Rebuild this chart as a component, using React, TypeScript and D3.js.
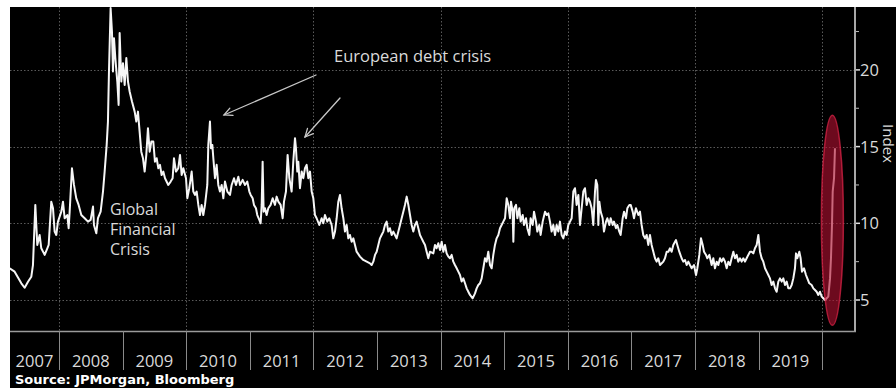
import React from 'react';
import * as d3 from 'd3';

// Decimal-year dates and index values
const dates: number[] = [
  2007.224, 2007.303, 2007.408, 2007.460, 2007.513, 2007.565, 2007.591, 2007.628, 2007.659, 2007.696,
  2007.722, 2007.775, 2007.817, 2007.838, 2007.879, 2007.906, 2007.932, 2007.958, 2007.984, 2008.037,
  2008.063, 2008.089, 2008.131, 2008.152, 2008.168, 2008.204, 2008.236, 2008.272, 2008.309, 2008.351,
  2008.404, 2008.456, 2008.498, 2008.535, 2008.550, 2008.587, 2008.613, 2008.655, 2008.692, 2008.718,
  2008.750, 2008.770, 2008.786, 2008.812, 2008.833, 2008.849, 2008.865, 2008.886, 2008.917, 2008.938,
  2008.954, 2008.980, 2009.006, 2009.033, 2009.059, 2009.085, 2009.111, 2009.148, 2009.190, 2009.216,
  2009.242, 2009.268, 2009.294, 2009.321, 2009.347, 2009.373, 2009.399, 2009.426, 2009.452,
  2009.483, 2009.509, 2009.536, 2009.562, 2009.588, 2009.614, 2009.640, 2009.667, 2009.719, 2009.756,
  2009.787, 2009.808, 2009.840, 2009.876, 2009.903, 2009.929, 2009.955, 2009.997, 2010.018, 2010.049,
  2010.086, 2010.112, 2010.138, 2010.165, 2010.191, 2010.217, 2010.243, 2010.269, 2010.296, 2010.332,
  2010.348, 2010.374, 2010.390, 2010.411, 2010.427, 2010.453, 2010.479, 2010.505, 2010.531, 2010.558,
  2010.584, 2010.610, 2010.647, 2010.689, 2010.715, 2010.752, 2010.783, 2010.820, 2010.846, 2010.888,
  2010.925, 2010.961, 2010.993, 2011.014, 2011.045, 2011.066, 2011.097, 2011.118, 2011.150, 2011.171,
  2011.187, 2011.202, 2011.218, 2011.239, 2011.265, 2011.291, 2011.328, 2011.360, 2011.396, 2011.422,
  2011.449, 2011.485, 2011.517, 2011.538, 2011.569, 2011.595, 2011.622,
  2011.658, 2011.684, 2011.711, 2011.726, 2011.747, 2011.763, 2011.789, 2011.816, 2011.842, 2011.868,
  2011.894, 2011.920, 2011.947, 2011.973, 2011.999, 2012.025, 2012.051, 2012.093, 2012.130, 2012.156,
  2012.182, 2012.219, 2012.250, 2012.287, 2012.313, 2012.340, 2012.366, 2012.392, 2012.418, 2012.444,
  2012.471, 2012.497, 2012.523, 2012.549, 2012.575, 2012.602, 2012.628, 2012.654, 2012.680, 2012.733,
  2012.785, 2012.838, 2012.890, 2012.916, 2012.942, 2012.969, 2012.995, 2013.021, 2013.047, 2013.073,
  2013.100, 2013.126, 2013.152, 2013.178, 2013.204, 2013.231, 2013.257, 2013.283, 2013.309, 2013.336,
  2013.362, 2013.388, 2013.414, 2013.440, 2013.467, 2013.493, 2013.519, 2013.545, 2013.571, 2013.597,
  2013.624, 2013.650, 2013.676, 2013.702, 2013.728, 2013.755, 2013.781, 2013.807, 2013.833,
  2013.886, 2013.912, 2013.938, 2013.964, 2013.991, 2014.017, 2014.043, 2014.069, 2014.095, 2014.122,
  2014.148, 2014.174, 2014.200, 2014.226, 2014.253, 2014.279, 2014.305, 2014.331, 2014.357, 2014.384,
  2014.410, 2014.436, 2014.462, 2014.504, 2014.541, 2014.567, 2014.593, 2014.619, 2014.646, 2014.672,
  2014.698, 2014.724, 2014.750, 2014.777, 2014.803, 2014.829, 2014.855, 2014.881, 2014.908, 2014.934,
  2014.960, 2014.986, 2015.013, 2015.039, 2015.065, 2015.091, 2015.107, 2015.133, 2015.144, 2015.159,
  2015.186, 2015.207, 2015.238, 2015.259, 2015.291, 2015.311, 2015.343, 2015.364, 2015.395, 2015.416,
  2015.448, 2015.469, 2015.500, 2015.521, 2015.552, 2015.573, 2015.605, 2015.642, 2015.668, 2015.694,
  2015.720, 2015.746, 2015.772, 2015.799, 2015.825, 2015.851, 2015.877, 2015.903, 2015.930, 2015.956,
  2015.982, 2016.008, 2016.035, 2016.061, 2016.087,
  2016.113, 2016.139, 2016.166, 2016.192, 2016.218, 2016.244, 2016.270, 2016.297, 2016.323, 2016.349,
  2016.375, 2016.401, 2016.428, 2016.443, 2016.464, 2016.480, 2016.496, 2016.517, 2016.548, 2016.569,
  2016.601, 2016.622, 2016.653, 2016.674, 2016.706, 2016.726, 2016.758, 2016.779, 2016.810, 2016.831,
  2016.863, 2016.884, 2016.915, 2016.936, 2016.968, 2016.989, 2017.020, 2017.041, 2017.072, 2017.109,
  2017.135, 2017.161, 2017.187, 2017.214, 2017.240, 2017.266, 2017.292, 2017.318, 2017.345, 2017.371,
  2017.397, 2017.423, 2017.450, 2017.502, 2017.528, 2017.555, 2017.581, 2017.607, 2017.633, 2017.659,
  2017.701, 2017.722, 2017.753, 2017.790, 2017.816, 2017.843, 2017.869, 2017.895, 2017.921, 2017.948,
  2017.984, 2018.016, 2018.037, 2018.068, 2018.094, 2018.121, 2018.142, 2018.173, 2018.194, 2018.226,
  2018.262, 2018.288, 2018.314, 2018.341, 2018.367, 2018.393, 2018.419, 2018.445, 2018.472, 2018.498,
  2018.524, 2018.550, 2018.576, 2018.603, 2018.629, 2018.655, 2018.681, 2018.708, 2018.734, 2018.760,
  2018.786, 2018.812, 2018.838, 2018.865, 2018.891, 2018.917, 2018.943, 2018.970, 2018.996, 2019.022,
  2019.048, 2019.074, 2019.101, 2019.127, 2019.153, 2019.179, 2019.205, 2019.231, 2019.258, 2019.284,
  2019.310, 2019.336, 2019.363, 2019.389, 2019.415, 2019.441, 2019.467, 2019.494, 2019.520, 2019.546,
  2019.572, 2019.588, 2019.609, 2019.640, 2019.661, 2019.682, 2019.714, 2019.745, 2019.766, 2019.797,
  2019.834, 2019.861, 2019.887, 2019.913, 2019.939, 2019.965, 2019.992, 2020.018, 2020.044, 2020.070,
  2020.096, 2020.123, 2020.138, 2020.154, 2020.165, 2020.186, 2020.201,
];

const values: number[] = [
  7.07, 6.85, 6.09, 5.80, 6.19, 6.52, 7.28, 11.20, 8.59, 9.24,
  8.37, 7.94, 8.37, 8.59, 11.41, 10.98, 9.46, 9.24, 10.11, 10.76,
  11.41, 10.33, 10.54, 9.68, 10.76, 13.59, 12.50, 11.63, 11.20, 10.54,
  10.33, 10.11, 10.22, 11.09, 9.89, 9.35, 10.33, 10.76, 12.07, 13.37,
  15.11, 16.63, 19.89, 24.03, 22.50, 19.89, 22.07, 20.77, 19.24, 17.72,
  22.40, 19.24, 20.44, 19.02, 20.77, 19.24, 18.59, 17.94, 17.28, 16.63,
  17.28, 15.98, 14.67, 14.24, 13.37, 14.46, 16.20, 14.67, 15.33,
  15.33, 14.02, 14.24, 13.59, 13.81, 13.15, 13.37, 12.94, 12.50, 12.72,
  12.94, 14.24, 13.37, 13.59, 14.46, 13.15, 13.59, 12.94, 11.63, 12.29,
  13.37, 12.07, 11.85, 12.07, 11.20, 10.54, 11.20, 10.54, 11.20, 12.50,
  15.11, 16.63, 14.89, 15.11, 14.24, 12.94, 13.81, 12.50, 12.07, 12.50,
  11.63, 12.72, 12.07, 11.85, 12.50, 12.94, 12.50, 13.04, 12.50, 12.83,
  12.50, 12.72, 12.07, 11.85, 11.63, 11.20, 10.98, 10.54, 10.22, 10.00,
  11.20, 14.02, 10.76, 10.98, 10.54, 10.98, 11.20, 11.63, 11.20, 11.74,
  11.41, 11.20, 10.33, 11.41, 12.07, 14.46, 12.94,
  12.07, 14.02, 15.55, 14.89, 13.37, 14.02, 12.29, 13.37, 12.94, 13.59,
  13.81, 12.94, 13.37, 12.07, 11.63, 10.54, 10.33, 9.89, 10.33, 10.00,
  10.54, 10.11, 10.33, 9.89, 9.02, 9.46, 10.33, 11.41, 11.85, 10.98,
  10.33, 9.46, 9.89, 9.02, 9.24, 8.80, 9.02, 8.59, 8.15, 7.83,
  7.61, 7.50, 7.39, 7.28, 7.50, 7.94, 8.15, 8.59, 9.02, 9.24,
  9.46, 9.89, 10.11, 9.46, 9.68, 9.24, 9.46, 9.24, 9.02, 9.46,
  9.89, 10.33, 10.76, 11.20, 11.74, 11.20, 10.54, 9.89, 9.46, 9.89,
  10.11, 9.68, 9.24, 9.02, 8.80, 8.59, 8.15, 7.72, 8.15,
  8.04, 8.59, 8.37, 8.70, 8.26, 8.80, 8.15, 8.59, 8.04, 7.83,
  7.72, 7.94, 7.50, 7.28, 7.07, 6.85, 6.63, 6.20, 6.41, 6.09,
  5.76, 5.54, 5.33, 5.11, 5.43, 5.76, 5.98, 6.09, 6.41, 7.07,
  7.72, 7.50, 8.15, 7.28, 7.07, 7.94, 8.59, 9.02, 9.24, 9.68,
  9.89, 10.11, 10.33, 11.63, 11.20, 10.33, 11.41, 10.76, 8.80, 10.98,
  11.20, 10.33, 10.98, 10.11, 10.54, 9.89, 10.33, 9.68, 9.24, 10.33,
  9.89, 10.76, 10.11, 9.46, 9.89, 9.24, 10.11, 10.76, 10.54, 10.65,
  10.11, 9.46, 9.89, 9.24, 9.89, 9.46, 10.11, 9.24, 9.02, 9.46,
  9.24, 9.89, 10.11, 10.33, 12.07,
  12.29, 11.20, 11.85, 9.89, 10.98, 12.07, 12.29, 11.20, 11.63, 11.41,
  10.98, 9.89, 12.07, 12.83, 12.50, 9.89, 11.41, 10.76, 10.33, 9.46,
  10.11, 10.33, 9.89, 10.33, 9.89, 10.11, 9.68, 9.89, 9.46, 9.24,
  10.33, 10.76, 10.33, 10.98, 11.20, 11.20, 10.76, 10.33, 10.98, 10.54,
  10.76, 9.89, 9.24, 9.02, 9.24, 8.59, 9.24, 8.59, 8.15, 7.72,
  7.50, 7.72, 7.28, 7.50, 7.72, 8.15, 8.15, 8.37, 8.15, 8.59,
  8.91, 8.59, 8.15, 7.72, 7.50, 7.61, 7.28, 7.50, 7.28, 7.07,
  7.28, 6.63, 7.07, 7.94, 9.02, 8.59, 8.15, 7.94, 7.72, 7.94,
  7.28, 7.72, 7.07, 7.50, 7.28, 7.72, 7.50, 7.72, 7.50, 7.07,
  7.50, 7.28, 7.72, 8.15, 7.72, 7.94, 7.50, 7.72, 7.50, 7.72,
  7.50, 7.72, 7.94, 8.15, 8.15, 8.04, 8.37, 8.59, 9.24, 8.15,
  7.72, 7.50, 7.07, 6.85, 6.63, 6.41, 5.98, 6.20, 5.76, 5.54,
  6.20, 6.41, 6.20, 6.41, 5.98, 6.20, 5.76, 5.76, 5.98, 6.41,
  7.07, 8.04, 7.72, 8.15, 7.72, 6.85, 7.07, 6.63, 6.41, 6.09,
  5.98, 5.76, 5.65, 5.54, 5.33, 5.54, 5.22, 5.11, 5.00, 5.11,
  5.22, 6.41, 7.72, 9.89, 12.07, 12.94, 14.89,
];

const yearLabels: string[] = ['2007', '2008', '2009', '2010', '2011', '2012', '2013', '2014', '2015', '2016', '2017', '2018', '2019'];
const yearBoundaries: number[] = [2008, 2009, 2010, 2011, 2012, 2013, 2014, 2015, 2016, 2017, 2018, 2019, 2020];
const gridYears: number[] = [2008, 2010, 2012, 2014, 2016, 2018, 2020];
const yTicks: number[] = [5, 10, 15, 20];
const yMinorTicks: number[] = [7.5, 12.5, 17.5, 22.5];

const LABEL_FONT = "'Open Sans', 'DejaVu Sans', sans-serif";
const TEXT_COLOR = '#dadada';
const FS = 16.5;

function Arrow({ x1, y1, x2, y2 }: { x1: number; y1: number; x2: number; y2: number }) {
  const ang = Math.atan2(y2 - y1, x2 - x1);
  const len = 9;
  const spread = 0.45;
  const a1x = x2 - len * Math.cos(ang - spread);
  const a1y = y2 - len * Math.sin(ang - spread);
  const a2x = x2 - len * Math.cos(ang + spread);
  const a2y = y2 - len * Math.sin(ang + spread);
  return (
    <g stroke="#c8c8c8" strokeWidth={1.3} fill="none" strokeLinecap="round">
      <line x1={x1} y1={y1} x2={x2} y2={y2} />
      <polyline points={`${a1x},${a1y} ${x2},${y2} ${a2x},${a2y}`} />
    </g>
  );
}

export default function App() {
  const W = 896;
  const H = 388;
  const left = 10;
  const right = 854;
  const top = 7;
  const bottom = 331;

  const x = d3.scaleLinear().domain([2007.23, 2020.5]).range([left, right]);
  const y = d3.scaleLinear().domain([2.98, 24.1]).range([bottom, top]);

  const data = dates.map((t, i) => ({ t, v: values[i] }));
  const linePath = d3
    .line<{ t: number; v: number }>()
    .x((d) => x(d.t))
    .y((d) => y(d.v))(data) as string;

  const yearStarts = [2007.23, ...yearBoundaries];

  return (
    <svg
      width={W}
      height={H}
      viewBox={`0 0 ${W} ${H}`}
      style={{ position: 'absolute', left: 0, top: 0, display: 'block' }}
    >
      <defs>
        <clipPath id="plotClip">
          <rect x={left} y={top} width={right - left} height={bottom - top} />
        </clipPath>
      </defs>
      <rect x={0} y={0} width={W} height={H} fill="#ffffff" />
      <rect x={left} y={top} width={W - left} height={H - top} fill="#000000" />

      {/* grid */}
      <g stroke="#5a5a5a" strokeWidth={1} strokeDasharray="1.5,2">
        {yTicks.map((v) => (
          <line key={'gy' + v} x1={left} x2={right} y1={Math.round(y(v)) + 0.5} y2={Math.round(y(v)) + 0.5} />
        ))}
        {gridYears.map((g) => (
          <line key={'gx' + g} x1={Math.round(x(g)) + 0.5} x2={Math.round(x(g)) + 0.5} y1={top} y2={bottom} />
        ))}
      </g>

      {/* data line */}
      <path d={linePath} fill="none" stroke="#f6f6f6" strokeWidth={2} strokeLinejoin="round" clipPath="url(#plotClip)" />

      {/* highlight ellipse */}
      <ellipse
        cx={x(2020.16)}
        cy={y(10.2)}
        rx={11}
        ry={y(3.35) - y(10.2)}
        fill="rgba(176,16,48,0.62)"
        stroke="rgba(215,35,70,0.75)"
        strokeWidth={1.5}
      />

      {/* right axis */}
      <line x1={right + 1} x2={right + 1} y1={top} y2={bottom + 1} stroke="#a8a8a8" strokeWidth={2} />
      {yTicks.map((v) => (
        <g key={'yt' + v}>
          <line x1={right + 2} x2={right + 6} y1={y(v)} y2={y(v)} stroke="#e0e0e0" strokeWidth={1.5} />
          <text x={right + 6} y={y(v) + 6} fill={TEXT_COLOR} fontFamily={LABEL_FONT} fontSize={FS}>
            {v}
          </text>
        </g>
      ))}
      {yMinorTicks.map((v) => (
        <line key={'ym' + v} x1={right + 2} x2={right + 5} y1={y(v)} y2={y(v)} stroke="#bbbbbb" strokeWidth={1} />
      ))}
      <text
        transform={`translate(${882.5},${y(15.2)}) rotate(90)`}
        textAnchor="middle"
        fill={TEXT_COLOR}
        fontFamily={LABEL_FONT}
        fontSize={15}
      >
        Index
      </text>

      {/* bottom axis */}
      <line x1={left} x2={right + 2} y1={bottom + 0.5} y2={bottom + 0.5} stroke="#9a9a9a" strokeWidth={1.5} />
      {yearBoundaries.map((b) => (
        <line
          key={'yb' + b}
          x1={Math.round(x(b)) + 0.5}
          x2={Math.round(x(b)) + 0.5}
          y1={bottom}
          y2={370}
          stroke="#8a8a8a"
          strokeWidth={1}
        />
      ))}
      {yearLabels.map((lab, i) => {
        const a = Math.max(x(yearStarts[i]), left);
        const b = Math.min(x(yearStarts[i + 1]), right);
        return (
          <text
            key={lab}
            x={(a + b) / 2}
            y={367}
            textAnchor="middle"
            fill={TEXT_COLOR}
            fontFamily={LABEL_FONT}
            fontSize={FS}
          >
            {lab}
          </text>
        );
      })}

      {/* annotations */}
      <g fill={TEXT_COLOR} fontFamily={LABEL_FONT} fontSize={16}>
        <text x={110} y={214.5}>Global</text>
        <text x={110} y={235}>Financial</text>
        <text x={110} y={255}>Crisis</text>
        <text x={334} y={62} fontSize={FS}>European debt crisis</text>
      </g>
      <Arrow x1={316} y1={75} x2={224} y2={115} />
      <Arrow x1={340} y1={98} x2={305} y2={137} />

      {/* source */}
      <text x={15} y={384} fill="#ffffff" fontFamily="'DejaVu Sans', sans-serif" fontWeight="bold" fontSize={13}>
        Source: JPMorgan, Bloomberg
      </text>
    </svg>
  );
}
